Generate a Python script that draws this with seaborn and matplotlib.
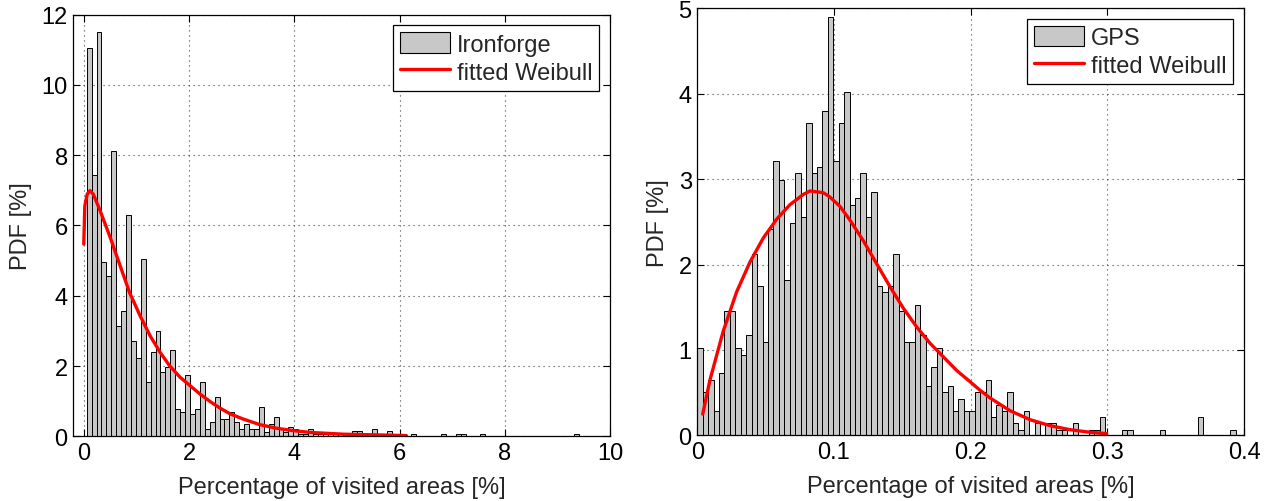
import numpy as np
import pandas as pd
import matplotlib
matplotlib.use("Agg")
import matplotlib.pyplot as plt
import seaborn as sns
from matplotlib.patches import Patch
from matplotlib.lines import Line2D

# ---------------- data ----------------
# Ironforge histogram: 100 bins
iron_bin_start = 0.055
iron_bin_width = 0.0935
iron_pdf = [
    11.06, 7.43, 11.49, 4.97, 4.55, 8.12, 3.15, 3.56, 6.29, 2.72,
    2.24, 5.04, 1.54, 2.39, 3.01, 1.82, 1.96, 2.45, 0.78, 0.68,
    1.74, 0.63, 0.78, 1.54, 0.21, 0.42, 1.11, 0.48, 0.48, 0.69,
    0.41, 0.20, 0.34, 0.20, 0.20, 0.83, 0.13, 0.34, 0.55, 0.20,
    0.13, 0.27, 0.20, 0.07, 0.07, 0.20, 0.07, 0.07, 0.07, 0.07,
    0.07, 0.00, 0.07, 0.00, 0.14, 0.14, 0.00, 0.00, 0.20, 0.00,
    0.00, 0.14, 0.00, 0.07, 0.07, 0.00, 0.07, 0.00, 0.00, 0.00,
    0.00, 0.00, 0.07, 0.00, 0.00, 0.07, 0.07, 0.00, 0.00, 0.00,
    0.07, 0.00, 0.00, 0.00, 0.00, 0.00, 0.00, 0.00, 0.00, 0.00,
    0.00, 0.00, 0.00, 0.00, 0.00, 0.00, 0.00, 0.00, 0.00, 0.07,
]
iron_fit_x = [0.0, 0.02, 0.065, 0.118, 0.18, 0.30, 0.49, 0.68, 0.87, 1.07,
              1.26, 1.45, 1.63, 1.83, 2.02, 2.21, 2.40, 2.59, 2.78, 3.03,
              3.35, 3.66, 3.98, 4.30, 4.93, 5.56, 6.13]
iron_fit_y = [5.47, 6.56, 6.89, 6.99, 6.89, 6.46, 5.71, 4.90, 4.09, 3.43,
              2.86, 2.39, 2.01, 1.68, 1.44, 1.20, 0.99, 0.80, 0.64, 0.49,
              0.33, 0.23, 0.16, 0.11, 0.06, 0.04, 0.02]

# GPS histogram: 99 bins
gps_bin_start = 0.0
gps_bin_width = 0.00398
gps_pdf = [
    1.02, 0.51, 0.65, 0.29, 0.73, 1.46, 1.46, 1.02, 0.94, 1.17,
    2.12, 1.75, 1.09, 2.41, 3.21, 2.99, 1.82, 2.48, 3.07, 2.56,
    3.66, 3.07, 3.14, 3.80, 4.90, 3.21, 3.66, 4.02, 2.70, 2.78,
    3.07, 2.56, 2.85, 1.75, 1.68, 1.75, 2.12, 1.46, 1.09, 1.09,
    1.53, 1.17, 0.58, 0.80, 1.02, 0.51, 0.58, 0.29, 0.43, 0.29,
    0.29, 0.51, 0.51, 0.65, 0.22, 0.36, 0.29, 0.51, 0.15, 0.07,
    0.29, 0.00, 0.15, 0.00, 0.15, 0.15, 0.07, 0.07, 0.00, 0.15,
    0.00, 0.00, 0.07, 0.07, 0.22, 0.00, 0.00, 0.00, 0.07, 0.07,
    0.00, 0.00, 0.00, 0.00, 0.00, 0.07, 0.00, 0.00, 0.00, 0.00,
    0.00, 0.00, 0.22, 0.00, 0.00, 0.00, 0.00, 0.00, 0.07,
]
gps_fit_x = [0.004, 0.0093, 0.019, 0.0288, 0.0386, 0.0483, 0.0581, 0.0678,
             0.0776, 0.0824, 0.0922, 0.097, 0.1044, 0.1117, 0.1214, 0.1312,
             0.141, 0.1507, 0.1605, 0.1702, 0.18, 0.1898, 0.1995, 0.2068,
             0.2141, 0.2288, 0.2434, 0.258, 0.2726, 0.2872, 0.2995]
gps_fit_y = [0.25, 0.65, 1.22, 1.68, 2.03, 2.31, 2.53, 2.70,
             2.82, 2.86, 2.84, 2.79, 2.68, 2.52, 2.28, 2.01,
             1.74, 1.49, 1.27, 1.08, 0.92, 0.76, 0.63, 0.53,
             0.44, 0.29, 0.185, 0.115, 0.068, 0.038, 0.022]

iron_xticks = [0, 2, 4, 6, 8, 10]
iron_yticks = [0, 2, 4, 6, 8, 10, 12]
gps_xticks = [0, 0.1, 0.2, 0.3, 0.4]
gps_xticklabels = ["0", "0.1", "0.2", "0.3", "0.4"]
gps_yticks = [0, 1, 2, 3, 4, 5]

x_label = "Percentage of visited areas [%]"
y_label = "PDF [%]"
fit_label = "fitted Weibull"

# ---------------- style ----------------
sns.set_theme(style="white")
plt.rcParams['font.family'] = ['Liberation Sans', 'DejaVu Sans']
FS = 17
BAR_FACE = "#c8c8c8"

fig = plt.figure(figsize=(12.74, 5.02), dpi=100)
ax1 = fig.add_axes([0.0575, 0.1289, 0.4213, 0.8401])
ax2 = fig.add_axes([0.5473, 0.1305, 0.4292, 0.8515])


def panel(ax, start, width, pdf, fx, fy, name, xlim, ylim, xticks, yticks, xticklabels=None):
    n = len(pdf)
    centers = start + width * (np.arange(n) + 0.5)
    df = pd.DataFrame({"x": centers, "w": pdf})
    sns.histplot(data=df, x="x", weights="w", bins=n,
                 binrange=(start, start + width * n), stat="count",
                 color=BAR_FACE, edgecolor="black", linewidth=0.7, alpha=1.0, ax=ax)
    sns.lineplot(x=fx, y=fy, color="red", linewidth=2.4, ax=ax)
    ax.set_xlim(*xlim)
    ax.set_ylim(*ylim)
    ax.set_xticks(xticks)
    if xticklabels is not None:
        ax.set_xticklabels(xticklabels)
    ax.set_yticks(yticks)
    ax.set_axisbelow(True)
    ax.grid(True, linestyle=(0, (1, 3.5)), color="#444444", linewidth=0.8)
    for s in ax.spines.values():
        s.set_visible(True)
        s.set_color("black")
        s.set_linewidth(0.9)
    ax.tick_params(direction="in", length=5, width=0.8, top=True, right=True,
                   bottom=True, left=True, labelsize=FS, pad=4, colors="black")
    ax.set_xlabel(x_label, fontsize=FS, labelpad=8.5)
    ax.set_ylabel(y_label, fontsize=FS, labelpad=7)
    handles = [Patch(facecolor=BAR_FACE, edgecolor="black", linewidth=0.8),
               Line2D([], [], color="red", linewidth=2.4)]
    leg = ax.legend(handles, [name, fit_label], loc="upper right", fancybox=False,
                    edgecolor="black", framealpha=1.0, fontsize=FS,
                    handlelength=2.1, handleheight=0.95, handletextpad=0.3,
                    borderpad=0.3, labelspacing=0.2, borderaxespad=0.45)
    leg.get_frame().set_linewidth(0.9)


panel(ax1, iron_bin_start, iron_bin_width, iron_pdf, iron_fit_x, iron_fit_y,
      "Ironforge", (-0.2, 10), (0, 12), iron_xticks, iron_yticks)
panel(ax2, gps_bin_start, gps_bin_width, gps_pdf, gps_fit_x, gps_fit_y,
      "GPS", (0, 0.4), (0, 5), gps_xticks, gps_yticks, gps_xticklabels)

fig.savefig("out.png", dpi=100)
